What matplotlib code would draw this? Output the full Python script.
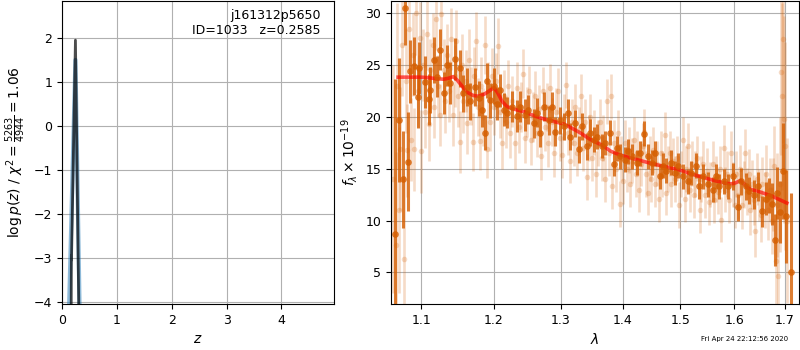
import matplotlib
matplotlib.use("Agg")
import matplotlib.pyplot as plt
from matplotlib.ticker import NullLocator, FixedLocator, FixedFormatter

plt.rcParams['font.size'] = 9

# ---------------- left panel: log p(z) ----------------
pz_blue_z = [0.130, 0.245, 0.320]
pz_blue_logp = [-4.1, 1.50, -4.1]
pz_grey_z = [0.168, 0.171, 0.173, 0.245, 0.306]
pz_grey_logp = [-4.1, -2.95, -3.05, 1.95, -4.1]
obj_name = "j161312p5650"
obj_id = 1033
z_best = 0.2585
chi2_num, chi2_den = 5263, 4944
left_xticks = [0, 1, 2, 3, 4]
left_yticks = [-4, -3, -2, -1, 0, 1, 2]

# ---------------- right panel: spectrum ----------------
bin_wave = [1.0655, 1.0710, 1.0762, 1.0792, 1.0822, 1.0856, 1.0900, 1.0952, 1.0965, 1.1053,
            1.1097, 1.1119, 1.1164, 1.1208, 1.1253, 1.1298, 1.1343, 1.1388, 1.1456, 1.1525,
            1.1571, 1.1618, 1.1664, 1.1734, 1.1781, 1.1828, 1.1866, 1.1899, 1.1947, 1.1995,
            1.2043, 1.2091, 1.2139, 1.2187, 1.2260, 1.2334, 1.2383, 1.2458, 1.2507, 1.2583,
            1.2633, 1.2684, 1.2735, 1.2811, 1.2862, 1.2914, 1.2992, 1.3044, 1.3106, 1.3148,
            1.3227, 1.3279, 1.3332, 1.3412, 1.3466, 1.3520, 1.3574, 1.3655, 1.3710, 1.3792,
            1.3858, 1.3902, 1.3957, 1.4040, 1.4096, 1.4152, 1.4236, 1.4293, 1.4361, 1.4435,
            1.4492, 1.4549, 1.4635, 1.4693, 1.4752, 1.4840, 1.4899, 1.4958, 1.5047, 1.5136,
            1.5197, 1.5287, 1.5348, 1.5409, 1.5501, 1.5593, 1.5655, 1.5717, 1.5811, 1.5874,
            1.5969, 1.6064, 1.6128, 1.6225, 1.6289, 1.6387, 1.6452, 1.6537, 1.6616, 1.6682,
            1.6749, 1.6802, 1.6849, 1.6896, 1.6963, 1.7031, 1.7117]
bin_flux = [8.7, 19.7, 14.0, 30.5, 15.7, 24.4, 24.9, 21.9, 24.7, 23.4,
            21.7, 22.6, 25.5, 23.9, 26.5, 22.3, 25.0, 23.3, 25.6, 24.7,
            22.3, 22.9, 21.5, 22.9, 21.8, 20.7, 18.5, 23.5, 21.6, 23.0,
            21.3, 22.6, 20.7, 20.4, 21.0, 20.1, 21.0, 20.2, 20.7, 19.4,
            20.4, 18.5, 21.0, 19.7, 21.0, 18.6, 19.7, 19.1, 20.4, 18.1,
            19.4, 16.9, 19.1, 17.2, 18.5, 17.8, 18.1, 17.2, 17.5, 18.5,
            15.5, 17.0, 16.2, 15.9, 16.7, 16.2, 15.6, 16.5, 18.4, 16.2,
            15.6, 16.5, 14.3, 15.3, 14.8, 15.6, 14.6, 15.3, 14.3, 13.8,
            14.6, 15.3, 13.3, 14.3, 13.5, 13.0, 14.3, 13.3, 13.8, 13.3,
            14.3, 11.3, 13.8, 13.3, 12.9, 12.5, 13.3, 10.9, 12.1, 12.4,
            11.6, 8.1, 12.7, 10.8, 14.8, 10.4, 5.0]
bin_err = [15.0, 6.0, 4.7, 3.5, 4.8, 3.0, 2.8, 3.0, 2.5, 2.5,
           2.5, 2.2, 2.2, 2.0, 2.0, 2.0, 2.0, 2.0, 2.0, 1.8,
           1.8, 1.8, 1.8, 1.8, 1.7, 1.7, 1.7, 1.7, 1.7, 1.7,
           1.6, 1.6, 1.6, 1.5, 1.5, 1.5, 1.5, 1.5, 1.4, 1.4,
           1.4, 1.4, 1.4, 1.4, 1.4, 1.4, 1.3, 1.3, 1.3, 1.3,
           1.3, 1.3, 1.3, 1.3, 1.3, 1.2, 1.2, 1.2, 1.2, 1.2,
           1.2, 1.2, 1.2, 1.2, 1.2, 1.2, 1.2, 1.2, 1.2, 1.2,
           1.2, 1.2, 1.2, 1.2, 1.2, 1.2, 1.2, 1.2, 1.2, 1.2,
           1.2, 1.2, 1.2, 1.2, 1.2, 1.2, 1.2, 1.2, 1.2, 1.2,
           1.3, 1.3, 1.3, 1.3, 1.3, 1.4, 1.4, 1.5, 1.6, 1.7,
           2.0, 2.5, 2.5, 3.0, 4.6, 4.5, 7.7]

raw_wave = [1.063, 1.067, 1.069, 1.071, 1.073, 1.075, 1.078, 1.080, 1.082, 1.084,
            1.087, 1.089, 1.091, 1.093, 1.096, 1.098, 1.100, 1.102, 1.105, 1.107,
            1.110, 1.112, 1.115, 1.117, 1.120, 1.122, 1.125, 1.127, 1.130, 1.132,
            1.135, 1.137, 1.140, 1.142, 1.145, 1.147, 1.150, 1.152, 1.155, 1.157,
            1.160, 1.162, 1.165, 1.167, 1.170, 1.172, 1.175, 1.177, 1.180, 1.182,
            1.185, 1.187, 1.190, 1.192, 1.195, 1.197, 1.200,
            1.203, 1.206, 1.209, 1.212, 1.215, 1.218, 1.221, 1.224, 1.227, 1.230,
            1.233, 1.236, 1.239, 1.242, 1.245, 1.248, 1.251, 1.254, 1.257, 1.260,
            1.263, 1.266, 1.269, 1.272, 1.275, 1.278, 1.281, 1.284, 1.287, 1.290,
            1.293, 1.296, 1.299, 1.302, 1.305, 1.308, 1.311, 1.314, 1.317, 1.320,
            1.323, 1.326, 1.329, 1.332, 1.335, 1.338, 1.341, 1.344, 1.347, 1.350,
            1.353, 1.356, 1.359, 1.362, 1.365, 1.368, 1.371, 1.374, 1.377, 1.380,
            1.383, 1.386, 1.389, 1.392, 1.395, 1.398,
            1.401, 1.404, 1.407, 1.410, 1.413, 1.416, 1.419, 1.422, 1.425, 1.428,
            1.431, 1.434, 1.437, 1.440, 1.443, 1.446, 1.449, 1.452, 1.455, 1.458,
            1.462, 1.465, 1.468, 1.472, 1.475, 1.478, 1.481, 1.484, 1.487, 1.490,
            1.494, 1.498, 1.501, 1.505, 1.508, 1.511, 1.514, 1.517, 1.521, 1.524,
            1.527, 1.531, 1.535, 1.538, 1.541, 1.545, 1.548, 1.552, 1.555, 1.559,
            1.562, 1.566, 1.569, 1.573, 1.575, 1.580, 1.583, 1.587, 1.590, 1.594,
            1.597,
            1.601, 1.604, 1.608, 1.611, 1.615, 1.618, 1.620, 1.624, 1.628, 1.631,
            1.635, 1.638, 1.641, 1.645, 1.648, 1.652, 1.655, 1.659, 1.662, 1.666,
            1.669, 1.673, 1.676, 1.678, 1.681, 1.684, 1.687, 1.690, 1.693, 1.695,
            1.697, 1.699, 1.701, 1.704]
raw_flux = [14.0, 7.6, 23.0, 11.0, 16.9, 27.0, 6.3, 23.5, 16.8, 28.5,
            17.8, 26.0, 16.9, 30.0, 22.5, 27.6, 16.7, 25.0, 20.5, 28.0,
            19.3, 24.5, 27.0, 21.0, 29.5, 23.0, 20.2, 29.9, 24.5, 21.5,
            26.0, 22.5, 27.5, 20.2, 24.0, 27.3, 22.0, 17.6, 25.0, 21.5,
            23.5, 19.4, 25.5, 22.0, 17.6, 24.0, 27.3, 21.0, 17.7, 23.0,
            20.0, 27.0, 16.9, 22.5, 19.5, 24.0, 21.0,
            23.5, 26.9, 20.5, 17.5, 22.0, 19.5, 23.0, 18.5, 21.5, 17.5,
            22.8, 19.0, 21.0, 24.2, 18.0, 20.5, 22.5, 17.8, 20.0, 22.0,
            18.5, 20.8, 16.2, 22.5, 19.0, 21.0, 17.5, 22.8, 19.5, 16.5,
            20.5, 22.5, 18.0, 16.3, 20.0, 23.1, 18.5, 15.8, 19.5, 17.5,
            21.0, 16.5, 18.8, 22.0, 17.0, 19.5, 14.2, 18.0, 20.0, 16.0,
            18.5, 14.5, 17.5, 19.5, 16.0, 18.0, 14.0, 21.5, 16.5, 22.0,
            13.3, 17.5, 15.0, 18.5, 11.6, 16.0,
            13.8, 17.5, 15.0, 16.8, 13.5, 15.8, 17.8, 14.5, 16.5, 13.0,
            15.5, 17.2, 18.6, 14.5, 12.7, 16.0, 14.0, 16.8, 13.5, 15.5,
            12.1, 16.5, 14.5, 18.3, 12.7, 15.0, 16.5, 13.5, 15.8, 14.0,
            16.0, 11.5, 14.5, 17.8, 12.1, 15.0, 17.2, 13.0, 15.5, 12.5,
            14.5, 16.0, 11.0, 14.0, 15.5, 12.5, 14.8, 11.8, 13.5, 15.5,
            12.0, 14.0, 12.8, 15.0, 10.1, 17.0, 13.0, 14.5, 12.0, 16.5,
            13.5,
            11.5, 14.5, 12.5, 15.0, 11.5, 13.5, 16.5, 12.8, 14.5, 11.0,
            13.5, 12.0, 9.0, 14.0, 12.5, 10.5, 13.5, 12.0, 14.5, 11.0,
            13.0, 10.0, 12.5, 15.3, 6.1, 11.5, 4.7, 13.5, 24.3, 22.0,
            27.5, 19.8, 17.2, 10.0]
raw_err = [11.0, 9.0, 8.0, 8.0, 6.0, 5.0, 8.0, 5.0, 4.5, 4.0,
           4.0, 4.0, 4.0, 4.0, 3.5, 3.5, 4.0, 3.5, 3.5, 3.5,
           3.5, 3.0, 3.0, 3.0, 3.0, 3.0, 3.0, 3.0, 3.0, 3.0,
           3.0, 3.0, 3.0, 3.0, 3.0, 3.0, 3.0, 3.0, 3.0, 3.0,
           3.0, 3.0, 3.0, 2.8, 2.8, 2.8, 2.8, 2.8, 2.8, 2.8,
           2.8, 2.8, 2.8, 2.8, 2.8, 2.7, 2.7,
           2.7, 2.7, 2.5, 2.5, 2.5, 2.5, 2.5, 2.5, 2.5, 2.5,
           2.5, 2.5, 2.4, 2.4, 2.4, 2.4, 2.4, 2.4, 2.4, 2.4,
           2.4, 2.3, 2.3, 2.3, 2.3, 2.3, 2.3, 2.3, 2.3, 2.3,
           2.3, 2.2, 2.2, 2.2, 2.2, 2.2, 2.2, 2.2, 2.2, 2.2,
           2.2, 2.2, 2.2, 2.2, 2.2, 2.2, 2.2, 2.2, 2.2, 2.2,
           2.2, 2.2, 2.2, 2.2, 2.2, 2.2, 2.2, 2.2, 2.2, 2.2,
           2.2, 2.2, 2.2, 2.2, 2.2, 2.2,
           2.2, 2.2, 2.2, 2.2, 2.2, 2.2, 2.2, 2.2, 2.2, 2.2,
           2.2, 2.2, 2.2, 2.2, 2.2, 2.2, 2.2, 2.2, 2.2, 2.2,
           2.2, 2.2, 2.2, 2.2, 2.2, 2.2, 2.2, 2.2, 2.2, 2.2,
           2.2, 2.2, 2.2, 2.2, 2.2, 2.2, 2.2, 2.2, 2.2, 2.2,
           2.2, 2.2, 2.2, 2.2, 2.2, 2.2, 2.2, 2.2, 2.2, 2.2,
           2.2, 2.2, 2.2, 2.2, 2.2, 2.2, 2.2, 2.2, 2.2, 2.2,
           2.2,
           2.2, 2.2, 2.3, 2.3, 2.3, 2.3, 2.3, 2.3, 2.4, 2.4,
           2.4, 2.4, 2.5, 2.5, 2.5, 2.6, 2.6, 2.7, 2.8, 2.9,
           3.0, 3.2, 3.5, 3.8, 4.5, 5.0, 6.0, 6.5, 8.0, 9.0,
           10.0, 10.0, 10.0, 8.0]

model_wave = [1.070, 1.080, 1.090, 1.100, 1.110, 1.120, 1.130, 1.137, 1.143, 1.148,
              1.155, 1.162, 1.170, 1.178, 1.186, 1.193, 1.200, 1.205, 1.212, 1.219,
              1.230, 1.245, 1.260, 1.275, 1.290, 1.304, 1.315, 1.330, 1.345, 1.360,
              1.368, 1.380, 1.395, 1.410, 1.430, 1.450, 1.470, 1.490, 1.500, 1.520,
              1.540, 1.560, 1.580, 1.592, 1.600, 1.607, 1.612, 1.618, 1.625, 1.632,
              1.645, 1.660, 1.675, 1.690, 1.704]
model_flux = [23.85, 23.85, 23.85, 23.85, 23.8, 23.7, 23.65, 23.75, 23.9, 23.6,
              23.0, 22.4, 22.1, 22.0, 22.2, 22.5, 22.85, 22.4, 21.5, 21.0,
              20.75, 20.5, 20.1, 19.8, 19.55, 19.35, 19.0, 18.5, 17.9, 17.45,
              17.2, 16.7, 16.35, 16.1, 15.8, 15.5, 15.25, 15.0, 14.87, 14.5,
              14.2, 13.9, 13.65, 13.55, 13.6, 13.75, 13.88, 13.6, 13.2, 13.0,
              12.85, 12.6, 12.35, 12.0, 11.7]

right_xticks = [1.1, 1.2, 1.3, 1.4, 1.5, 1.6, 1.7]
right_xticklabels = ['1.1', '1.2', '1.3', '1.4', '1.5', '1.6', '1.7']
right_yticks = [5, 10, 15, 20, 25, 30]
timestamp = "Fri Apr 24 22:12:56 2020"

G141_COLOR = (0.8352941176470589, 0.3686274509803922, 0.0)

fig = plt.figure(figsize=(8, 3.5), dpi=100)
ax1 = fig.add_axes([0.0775, 0.1314, 0.34, 0.8657])
ax2 = fig.add_axes([0.4888, 0.1314, 0.5100, 0.8657])

# left
ax1.plot(pz_blue_z, pz_blue_logp, color='#1f77b4', lw=3, alpha=0.5)
ax1.plot(pz_grey_z, pz_grey_logp, color='k', lw=2, alpha=0.7)
ax1.set_xlim(0, 4.96)
ax1.set_ylim(-4.05, 2.84)
ax1.set_xticks(left_xticks)
ax1.set_yticks(left_yticks)
ax1.grid(True)
ax1.set_xlabel(r'$z$', fontsize=10)
ax1.set_ylabel(r'$\log p(z)$ / $\chi^2=\frac{%d}{%d}=%.2f$' % (chi2_num, chi2_den, chi2_num / chi2_den),
               fontsize=10)
ax1.text(0.95, 0.975, '%s\nID=%d   z=%.4f' % (obj_name, obj_id, z_best),
         transform=ax1.transAxes, ha='right', va='top', fontsize=9)

# right
ax2.errorbar(raw_wave, raw_flux, yerr=raw_err, marker='o', ms=4, linestyle='None',
             color=G141_COLOR, alpha=0.22, elinewidth=1.9, mec='none')
ax2.errorbar(bin_wave, bin_flux, yerr=bin_err, marker='o', ms=4.8, linestyle='None',
             color=G141_COLOR, alpha=0.8, elinewidth=2.2, mec='none')
ax2.plot(model_wave, model_flux, color='r', lw=2.6, alpha=0.65)
ax2.set_xscale('log')
ax2.set_xlim(1.061, 1.729)
ax2.xaxis.set_major_locator(FixedLocator(right_xticks))
ax2.xaxis.set_major_formatter(FixedFormatter(right_xticklabels))
ax2.xaxis.set_minor_locator(NullLocator())
ax2.set_ylim(1.95, 31.2)
ax2.set_yticks(right_yticks)
ax2.grid(True)
ax2.set_xlabel(r'$\lambda$', fontsize=10)
ax2.set_ylabel(r'$f_\lambda\times10^{-19}$', fontsize=10)

fig.text(0.985, 0.03, timestamp, ha='right', va='center', fontsize=5)

fig.savefig('out.png', dpi=100)
